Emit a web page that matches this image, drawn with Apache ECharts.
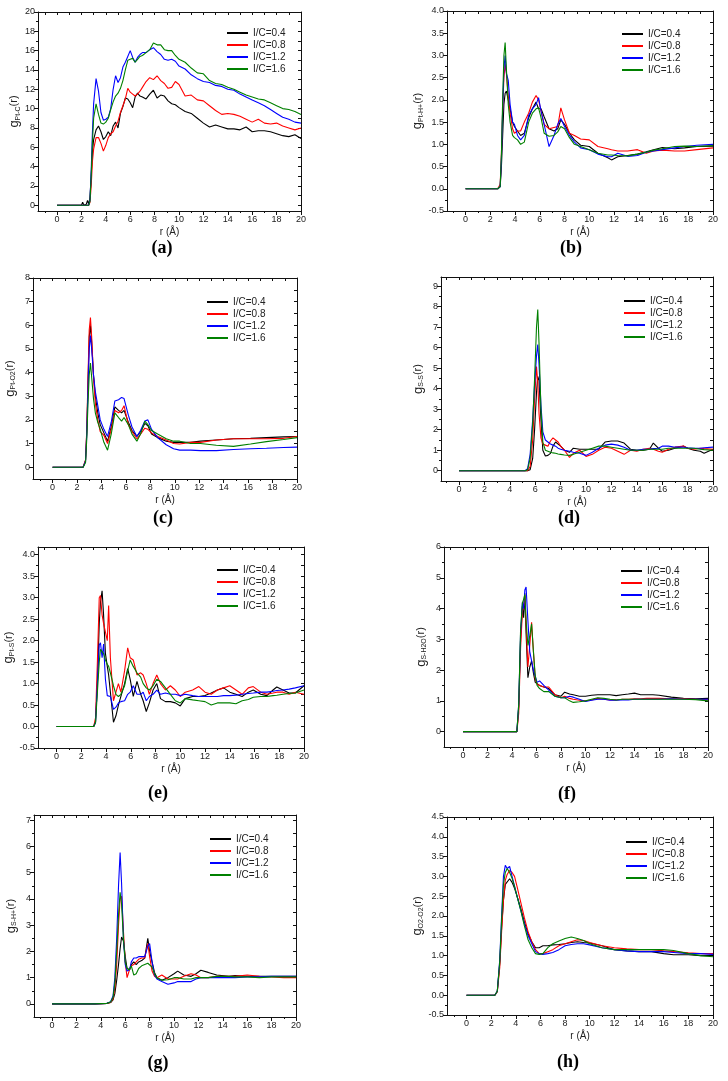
<!DOCTYPE html>
<html><head><meta charset="utf-8">
<script src="https://cdn.jsdelivr.net/npm/echarts@6/dist/echarts.min.js"></script>
<style>html,body{margin:0;padding:0;background:#fff}#c{width:728px;height:1081px}</style>
</head><body><div id="c"></div>
<script>
// ---------- labels ----------
const SERIES_NAMES = ['I/C=0.4','I/C=0.8','I/C=1.2','I/C=1.6'];
const COLORS = ['#000000','#ff0000','#0000ff','#008000'];
const X_TICKS = [0,2,4,6,8,10,12,14,16,18,20];
const X_MINOR = [-1,1,3,5,7,9,11,13,15,17,19];
const Y_TICKS_A = [0,2,4,6,8,10,12,14,16,18,20];
const Y_MINOR_A = [1,3,5,7,9,11,13,15,17,19];
const Y_TICKS_B = [-0.5,0,0.5,1,1.5,2,2.5,3,3.5,4];
const Y_MINOR_B = [-0.25,0.25,0.75,1.25,1.75,2.25,2.75,3.25,3.75];
const Y_TICKS_C = [0,1,2,3,4,5,6,7,8];
const Y_MINOR_C = [0.5,1.5,2.5,3.5,4.5,5.5,6.5,7.5];
const Y_TICKS_D = [0,1,2,3,4,5,6,7,8,9];
const Y_MINOR_D = [0.5,1.5,2.5,3.5,4.5,5.5,6.5,7.5,8.5];
const Y_TICKS_E = [-0.5,0,0.5,1,1.5,2,2.5,3,3.5,4];
const Y_MINOR_E = [-0.25,0.25,0.75,1.25,1.75,2.25,2.75,3.25,3.75];
const Y_TICKS_F = [0,1,2,3,4,5,6];
const Y_MINOR_F = [0.5,1.5,2.5,3.5,4.5,5.5];
const Y_TICKS_G = [0,1,2,3,4,5,6,7];
const Y_MINOR_G = [0.5,1.5,2.5,3.5,4.5,5.5,6.5];
const Y_TICKS_H = [-0.5,0,0.5,1,1.5,2,2.5,3,3.5,4,4.5];
const Y_MINOR_H = [-0.25,0.25,0.75,1.25,1.75,2.25,2.75,3.25,3.75,4.25];

// ---------- (a) g Pt-C ----------
const R_A = [0,2.0,2.1,2.2,2.4,2.5,2.6,2.7,2.8,2.9, 3.0,3.2,3.4,3.6,3.8,4.0,4.2,4.4,4.6,4.8,5.0,5.2,5.4,5.6,5.8,6.0,6.2,6.4,6.6,6.8, 7.0,7.3,7.6,7.9,8.2,8.5,8.8,9.1,9.4,9.7, 10,10.5,11,11.5,12,12.5,13,13.5,14,14.5,15,15.5,16,16.5,17,17.5,18,18.5,19,19.5,20];
const A_04 = [0,0,0.3,0,0.1,0.5,0.1,0.8,3.0,5.5, 6.8,7.8,8.2,7.6,6.8,7.1,7.6,7.2,8.2,8.6,8.0,9.5,10.2,11.1,11.0,10.6,10.1,11.2,11.6,11.3, 11.2,11.0,11.5,11.9,11.1,11.4,11.3,10.8,10.5,10.4, 10.1,9.7,9.5,9.0,8.5,8.1,8.3,8.1,7.9,7.9,7.8,8.1,7.6,7.7,7.7,7.6,7.4,7.2,7.1,7.3,6.9];
const A_08 = [0,0,0,0,0,0,0,0.3,2.0,4.5, 5.8,7.0,7.0,6.4,5.6,6.2,7.0,7.4,7.6,8.2,8.7,9.6,10.3,11.0,12.1,11.7,11.5,11.3,11.5,11.8, 12.2,12.8,13.2,13.0,13.4,12.9,12.6,12.1,12.2,12.8, 12.5,11.3,11.4,10.9,10.8,10.3,9.8,9.4,9.5,9.4,9.2,8.9,8.6,8.9,8.5,8.4,8.5,8.2,8.0,7.8,8.0];
const A_12 = [0,0,0,0,0,0,0,0.5,3.5,7.5, 10.5,13.1,11.8,9.6,8.8,8.9,9.1,10.0,12.0,13.4,12.7,13.2,14.3,14.8,15.4,16.0,15.3,14.8,15.3,15.6, 15.8,15.8,16.1,16.3,15.9,15.6,15.1,15.0,15.1,14.9, 14.4,14.1,13.5,13.1,12.8,12.7,12.4,12.3,12.0,11.9,11.5,11.2,10.9,10.6,10.3,9.9,9.5,9.1,8.9,8.6,8.5];
const A_16 = [0,0,0,0,0,0,0,0.4,3.0,6.5, 9.0,10.5,9.4,8.5,8.4,8.6,9.0,9.9,10.7,11.3,11.6,12.1,12.9,14.0,15.0,15.1,15.2,14.8,15.1,15.4, 15.5,15.8,16.1,16.8,16.6,16.6,16.1,16.0,16.0,15.5, 15.1,14.8,14.2,13.7,13.6,12.9,12.6,12.5,12.2,12.0,11.7,11.4,11.2,11.0,10.9,10.6,10.3,10.0,9.9,9.7,9.4];

// ---------- (b) g Pt-H+ ----------
const R_B = [0,2.6,2.8,2.9,3.0,3.1,3.2,3.3,3.45,3.6, 3.8,3.95,4.2,4.45,4.75,5.1,5.4,5.7,5.9,6.1, 6.35,6.75,7.15,7.45,7.7,8.0,8.4,8.8,9.3,10, 10.7,11.5,11.8,12.3,13.1,13.9,14.6,15.2,15.9,16.9, 17.7,18.7,20];
const B_04 = [0,0,0.05,0.5,1.2,1.9,2.15,2.2,2.0,1.8, 1.5,1.4,1.3,1.2,1.25,1.6,1.8,1.95,1.8,1.8, 1.62,1.35,1.3,1.35,1.55,1.45,1.25,1.1,0.98,0.95, 0.8,0.7,0.65,0.72,0.75,0.78,0.83,0.88,0.93,0.9, 0.92,0.95,0.96];
const B_08 = [0,0,0.1,0.8,1.8,2.5,2.8,2.6,2.1,1.7, 1.35,1.25,1.3,1.3,1.5,1.7,1.95,2.1,2.0,1.75, 1.45,1.35,1.38,1.4,1.82,1.55,1.25,1.2,1.12,1.1, 0.95,0.9,0.88,0.85,0.85,0.88,0.8,0.85,0.87,0.85, 0.85,0.88,0.92];
const B_12 = [0,0,0.05,0.7,1.8,2.7,3.0,2.6,2.44,1.9, 1.5,1.45,1.2,1.1,1.2,1.65,1.8,1.9,2.05,1.75, 1.45,0.95,1.2,1.45,1.58,1.4,1.2,1.05,0.92,0.88, 0.78,0.72,0.72,0.8,0.73,0.75,0.82,0.85,0.88,0.92, 0.95,0.98,1.0];
const B_16 = [0,0,0.05,0.8,2.0,3.0,3.29,2.7,1.9,1.5, 1.2,1.15,1.1,1.0,1.05,1.5,1.7,1.8,1.82,1.6, 1.25,1.18,1.2,1.28,1.4,1.35,1.15,1.0,0.95,0.88, 0.8,0.76,0.76,0.75,0.74,0.78,0.82,0.87,0.9,0.95, 0.96,0.95,0.97];

// ---------- (c) g Pt-O2 ----------
const R_C = [0,2.5,2.7,2.8,2.9,3.0,3.1,3.2,3.35,3.5, 3.7,3.9,4.2,4.5,4.8,5.1,5.4,5.65,5.85,6.2, 6.5,6.9,7.2,7.55,7.8,8.1,8.6,9.3,9.9,10.4, 11.3,12.1,13.4,14.8,16.2,17.5,18.9,20];
const C_04 = [0,0,0.3,1.5,3.5,5.5,6.0,5.3,3.9,3.0, 2.3,1.8,1.45,1.1,1.7,2.55,2.4,2.3,2.4,1.9, 1.55,1.3,1.5,1.85,1.75,1.4,1.25,1.1,1.05,1.05, 1.05,1.1,1.15,1.2,1.22,1.25,1.28,1.3];
const C_08 = [0,0,0.3,1.6,3.8,5.8,6.33,5.5,3.8,2.7, 2.0,1.5,1.35,1.0,1.6,2.4,2.3,2.4,2.6,1.8, 1.5,1.2,1.4,1.65,1.6,1.45,1.3,1.15,1.0,0.98, 1.05,1.05,1.15,1.2,1.2,1.2,1.22,1.3];
const C_12 = [0,0,0.25,1.4,3.3,5.0,5.57,5.0,3.9,3.2, 2.6,2.0,1.6,1.3,1.9,2.8,2.85,2.95,2.9,2.2, 1.7,1.3,1.55,1.95,2.0,1.6,1.25,0.95,0.78,0.72, 0.72,0.7,0.7,0.75,0.78,0.8,0.83,0.85];
const C_16 = [0,0,0.2,1.2,2.7,3.9,4.4,3.8,2.9,2.3, 1.9,1.6,1.05,0.72,1.4,2.3,2.1,1.95,2.1,1.8, 1.4,1.1,1.4,1.95,1.8,1.55,1.4,1.2,1.1,1.1, 1.0,1.0,0.93,0.88,0.98,1.08,1.17,1.25];

// ---------- (d) g S-S ----------
const R_D = [0,5.2,5.4,5.6,5.8,5.95,6.1,6.2,6.3,6.45, 6.6,6.8,7.0,7.2,7.4,7.6,7.8,8.0,8.3,8.7, 9.0,9.5,10,10.5,11,11.5,12,12.5,13,13.5, 14,14.5,15,15.3,15.7,16,16.5,17,17.7,18, 18.5,19,19.3,20];
const D_04 = [0,0,0,0.05,0.6,2.0,3.8,4.6,4.4,2.5, 1.0,0.72,0.75,0.85,1.2,1.4,1.3,1.2,1.0,0.9, 1.1,1.05,1.05,1.05,1.05,1.4,1.45,1.45,1.35,1.05, 1.0,1.0,1.05,1.35,1.1,0.95,1.0,1.1,1.2,1.1, 1.0,0.95,0.85,1.05];
const D_08 = [0,0,0,0.2,1.5,3.5,5.08,4.3,2.8,1.6, 1.3,1.25,1.2,1.45,1.6,1.5,1.4,1.2,1.0,0.65, 0.85,1.0,0.7,0.8,1.0,1.15,1.1,0.95,0.8,1.0, 0.95,1.05,1.1,1.05,0.95,0.9,1.05,1.15,1.2,1.1, 1.05,1.1,1.08,1.05];
const D_12 = [0,0,0.1,0.8,2.5,4.2,5.6,6.16,5.2,3.2, 1.9,1.5,1.4,1.3,1.25,1.2,1.1,1.05,1.0,0.95, 0.9,0.85,0.75,0.9,1.1,1.25,1.3,1.25,1.15,1.0, 1.0,1.05,1.05,1.08,1.1,1.2,1.2,1.15,1.15,1.12, 1.1,1.1,1.12,1.15];
const D_16 = [0,0,0.05,0.6,2.3,4.5,7.0,7.86,6.2,3.0, 1.4,1.0,0.95,0.9,0.87,0.85,0.82,0.8,0.77,0.75, 0.8,0.9,1.0,1.1,1.2,1.2,1.15,1.1,1.05,1.0, 1.0,1.0,1.05,1.05,1.05,1.05,1.1,1.1,1.1,1.1, 1.1,1.05,1.03,1.0];

// ---------- (e) g Pt-S ----------
const R_E = [0,3.0,3.15,3.3,3.45,3.55,3.68,3.8,3.95,4.1, 4.21,4.35,4.6,4.8,5.0,5.2,5.5,5.75,5.95,6.2, 6.5,6.8,7.0,7.25,7.5,7.8,8.1,8.4,8.8,9.2, 9.6,10.0,10.4,11,11.5,12,12.5,13,13.5,14, 14.5,15,15.5,15.9,16.5,17,17.5,17.8,18.3,18.8, 19.3,20];
const E_04 = [0,0,0.1,1.0,2.4,2.9,3.16,2.6,1.7,1.4, 1.2,0.8,0.1,0.25,0.5,0.7,1.0,1.35,1.1,0.7, 1.05,0.75,0.6,0.35,0.55,0.85,1.0,0.65,0.58,0.58, 0.55,0.48,0.65,0.7,0.7,0.72,0.78,0.85,0.9,0.8, 0.75,0.7,0.8,0.85,0.75,0.72,0.85,0.92,0.85,0.78, 0.78,0.95];
const E_08 = [0,0,0.2,1.5,3.0,3.05,2.6,2.4,2.2,2.0, 2.82,1.6,0.6,0.8,1.0,0.8,1.3,1.83,1.6,1.55, 1.2,1.25,1.2,1.0,0.75,1.0,1.2,1.0,0.85,0.95, 0.85,0.7,0.8,0.85,0.93,0.8,0.75,0.85,0.9,0.95, 0.85,0.75,0.9,0.93,0.8,0.75,0.78,0.8,0.8,0.75, 0.8,0.75];
const E_12 = [0,0,0.1,1.0,1.9,1.95,1.6,1.92,1.1,0.72, 0.75,0.7,0.4,0.45,0.55,0.58,0.6,0.75,0.8,0.95, 0.75,0.75,0.8,0.6,0.7,0.75,0.85,0.75,0.78,0.75, 0.75,0.72,0.75,0.72,0.7,0.7,0.7,0.7,0.72,0.72, 0.73,0.75,0.77,0.78,0.8,0.8,0.82,0.84,0.85,0.87, 0.9,0.95];
const E_16 = [0,0,0.1,0.8,1.5,1.8,1.84,1.7,1.55,1.45, 1.4,1.25,0.95,0.75,0.7,0.75,0.95,1.3,1.55,1.4, 1.25,1.15,1.0,0.9,0.85,0.95,1.1,1.05,0.9,0.75, 0.6,0.55,0.65,0.62,0.6,0.58,0.5,0.55,0.55,0.55, 0.53,0.6,0.63,0.68,0.7,0.7,0.72,0.73,0.75,0.77, 0.78,0.85];

// ---------- (f) g S-H2O ----------
const R_F = [0,4.4,4.55,4.7,4.85,4.95,5.05,5.15,5.3,5.45, 5.6,5.75,5.9,6.05,6.25,6.6,7.0,7.5,8.0,8.3, 8.7,9.0,9.5,10,10.5,11,11.5,12,12.5,13, 13.5,14,14.5,15,15.5,16,17,18,19,20];
const F_04 = [0,0,0.8,3.0,4.07,3.7,4.5,3.2,1.75,2.1, 2.3,1.9,1.6,1.55,1.5,1.45,1.4,1.2,1.15,1.28, 1.22,1.2,1.15,1.15,1.18,1.2,1.2,1.2,1.17,1.2, 1.22,1.25,1.2,1.2,1.2,1.18,1.12,1.08,1.07,1.08];
const F_08 = [0,0,0.6,2.7,3.9,4.1,4.4,3.5,2.1,2.8, 3.55,2.6,1.7,1.55,1.5,1.45,1.45,1.2,1.1,1.15, 1.08,1.05,1.02,1.0,1.03,1.08,1.05,1.03,1.03,1.05, 1.05,1.07,1.07,1.08,1.08,1.08,1.07,1.07,1.05,1.03];
const F_12 = [0,0,0.9,3.2,4.2,4.0,4.6,4.7,3.6,2.6, 2.3,2.0,1.8,1.6,1.65,1.5,1.35,1.15,1.1,1.1, 1.15,1.12,1.05,0.98,1.02,1.05,1.05,1.02,1.02,1.03, 1.03,1.05,1.05,1.05,1.05,1.05,1.07,1.05,1.05,1.05];
const F_16 = [0,0,0.9,3.3,4.18,4.3,4.45,3.6,2.8,3.1, 3.5,2.6,1.8,1.5,1.4,1.3,1.3,1.15,1.1,1.1, 1.0,0.95,0.97,1.0,1.05,1.1,1.08,1.05,1.03,1.05, 1.05,1.05,1.05,1.05,1.05,1.05,1.05,1.05,1.04,1.0];

// ---------- (g) g S-H+ ----------
const R_G = [0,3.5,4.5,4.8,5.0,5.15,5.3,5.45,5.58,5.7, 5.85,6.0,6.15,6.35,6.5,6.7,6.9,7.1,7.35,7.6, 7.85,8.0,8.2,8.4,8.6,9.0,9.5,10.0,10.3,10.8, 11.4,11.8,12.2,12.8,13.5,14.5,15,16,17,18, 19,20];
const G_04 = [0,0,0.02,0.05,0.15,0.4,0.9,1.5,2.1,2.55, 2.4,1.8,1.35,1.3,1.5,1.6,1.5,1.6,1.65,1.75, 2.5,2.0,1.6,1.2,1.0,0.9,1.0,1.15,1.25,1.1, 1.05,1.15,1.28,1.2,1.1,1.05,1.08,1.05,1.05,1.05, 1.05,1.05];
const G_08 = [0,0,0.02,0.05,0.2,0.6,1.5,3.0,4.0,4.1, 2.8,1.6,1.0,1.3,1.45,1.5,1.6,1.7,1.75,1.75, 2.3,1.8,1.25,1.05,1.0,1.1,0.95,0.95,0.95,1.05, 1.15,1.1,1.0,1.0,1.05,1.05,1.05,1.1,1.05,1.03, 1.0,1.0];
const G_12 = [0,0,0.02,0.08,0.3,1.0,2.5,4.5,5.77,4.6, 2.5,1.5,1.25,1.3,1.6,1.75,1.75,1.8,1.8,1.8, 2.2,2.3,1.6,1.1,0.95,0.85,0.75,0.8,0.85,0.85, 0.85,0.95,1.0,1.0,1.0,1.0,1.0,1.03,1.03,1.05, 1.05,1.05];
const G_16 = [0,0,0.02,0.07,0.25,0.8,2.0,3.4,4.25,3.8, 2.5,1.6,1.35,1.3,1.45,1.1,1.15,1.35,1.45,1.5, 1.55,1.5,1.4,1.15,1.0,0.9,0.92,1.0,1.0,0.95, 0.95,1.0,1.0,1.0,1.05,1.05,1.03,1.03,1.0,1.03, 1.03,1.03];

// ---------- (h) g O2-O2 ----------
const R_H = [0,2.3,2.5,2.7,2.85,3.0,3.15,3.3,3.5,3.7, 3.9,4.1,4.4,4.7,5.0,5.3,5.6,5.9,6.2,6.6, 7.0,7.5,8.0,8.5,9.0,9.5,10,11,12,13, 14,15,16,16.8,18,19,20];
const H_04 = [0,0,0.1,0.8,1.7,2.4,2.8,2.85,2.94,2.85, 2.7,2.5,2.2,1.85,1.55,1.35,1.2,1.2,1.25,1.25, 1.27,1.28,1.3,1.33,1.35,1.33,1.32,1.25,1.15,1.12, 1.1,1.1,1.05,1.02,1.02,1.0,1.0];
const H_08 = [0,0,0.08,0.7,1.6,2.4,2.9,3.05,3.15,3.1, 3.0,2.75,2.35,1.95,1.6,1.35,1.15,1.05,1.05,1.1, 1.15,1.25,1.3,1.35,1.4,1.38,1.33,1.25,1.2,1.17, 1.15,1.15,1.12,1.1,1.07,1.05,1.05];
const H_12 = [0,0,0.1,0.9,2.0,3.0,3.28,3.2,3.25,3.0, 2.75,2.5,2.15,1.8,1.5,1.3,1.1,1.05,1.03,1.05, 1.08,1.15,1.25,1.28,1.3,1.3,1.27,1.2,1.15,1.12, 1.1,1.1,1.1,1.08,1.05,1.05,1.03];
const H_16 = [0,0,0.1,0.85,1.9,2.8,3.1,3.2,3.1,2.95, 2.75,2.5,2.15,1.75,1.4,1.2,1.05,1.03,1.05,1.2, 1.3,1.37,1.43,1.47,1.43,1.38,1.3,1.2,1.15,1.15, 1.15,1.15,1.15,1.13,1.05,1.0,0.97];

// ---------- layout (positions/styles) ----------
const PANELS = [
  {key:'a', r:R_A, ys:[A_04,A_08,A_12,A_16], box:[38,12,301,211], xMin:-1.56, yMin:-0.6, yMax:20,  maj:Y_TICKS_A, mnr:Y_MINOR_A, dec:0, sub:'Pt-C',  leg:[227,27],  lab:[162,248]},
  {key:'b', r:R_B, ys:[B_04,B_08,B_12,B_16], box:[447,11,713,211], xMin:-1.5, yMin:-0.5, yMax:4.0,  maj:Y_TICKS_B, mnr:Y_MINOR_B, dec:1, sub:'Pt-H+', leg:[622,28],  lab:[571,248]},
  {key:'c', r:R_C, ys:[C_04,C_08,C_12,C_16], box:[33,278,297,479], xMin:-1.6, yMin:-0.5, yMax:8,    maj:Y_TICKS_C, mnr:Y_MINOR_C, dec:0, sub:'Pt-O2', leg:[207,296], lab:[163,518]},
  {key:'d', r:R_D, ys:[D_04,D_08,D_12,D_16], box:[441,277,713,481], xMin:-1.42, yMin:-0.5, yMax:9.45, maj:Y_TICKS_D, mnr:Y_MINOR_D, dec:0, sub:'S-S',  leg:[624,295], lab:[569,518]},
  {key:'e', r:R_E, ys:[E_04,E_08,E_12,E_16], box:[38,547,304,748], xMin:-1.5, yMin:-0.5, yMax:4.18, maj:Y_TICKS_E, mnr:Y_MINOR_E, dec:1, sub:'Pt-S',  leg:[217,564], lab:[158,793]},
  {key:'f', r:R_F, ys:[F_04,F_08,F_12,F_16], box:[444,547,708,747], xMin:-1.55, yMin:-0.5, yMax:6,   maj:Y_TICKS_F, mnr:Y_MINOR_F, dec:0, sub:'S-H2O', leg:[621,565], lab:[567,794]},
  {key:'g', r:R_G, ys:[G_04,G_08,G_12,G_16], box:[34,815,296,1017], xMin:-1.48, yMin:-0.5, yMax:7.2, maj:Y_TICKS_G, mnr:Y_MINOR_G, dec:0, sub:'S-H+',  leg:[210,833], lab:[158,1063]},
  {key:'h', r:R_H, ys:[H_04,H_08,H_12,H_16], box:[447,817,713,1015], xMin:-1.58, yMin:-0.5, yMax:4.5, maj:Y_TICKS_H, mnr:Y_MINOR_H, dec:1, sub:'O2-O2', leg:[626,836], lab:[568,1062]}
];

const FONT = '"Liberation Sans", Arial, sans-serif';
const LINE = {color:'#111', width:1};
const option = {animation:false, backgroundColor:'#fff', textStyle:{fontFamily:FONT},
  grid:[], xAxis:[], yAxis:[], series:[], legend:[], graphic:[]};

PANELS.forEach((p, i) => {
  const [l, t, r, b] = p.box;
  option.grid.push({left:l, top:t, width:r - l, height:b - t, containLabel:false, show:false});
  const xi = option.xAxis.length, yi = option.yAxis.length;
  const xBase = {type:'value', gridIndex:i, min:p.xMin, max:20, splitLine:{show:false}, axisPointer:{show:false}};
  const yBase = {type:'value', gridIndex:i, min:p.yMin, max:p.yMax, splitLine:{show:false}, axisPointer:{show:false}};
  option.xAxis.push(Object.assign({}, xBase, {position:'bottom',
    axisLine:{show:true, onZero:false, lineStyle:LINE},
    axisTick:{show:true, length:4, customValues:X_TICKS, lineStyle:LINE},
    axisLabel:{show:true, customValues:X_TICKS, fontSize:9, color:'#222', margin:4, fontFamily:FONT},
    name:'r (Å)', nameLocation:'middle', nameGap:16, nameTextStyle:{fontSize:10, color:'#222', fontFamily:FONT}}));
  option.xAxis.push(Object.assign({}, xBase, {position:'bottom',
    axisLine:{show:false, onZero:false},
    axisTick:{show:true, length:2, customValues:X_MINOR, lineStyle:LINE},
    axisLabel:{show:false}}));
  option.xAxis.push(Object.assign({}, xBase, {position:'top',
    axisLine:{show:true, onZero:false, lineStyle:LINE},
    axisTick:{show:true, inside:true, length:3, customValues:X_TICKS.concat(X_MINOR), lineStyle:LINE},
    axisLabel:{show:false}}));
  option.yAxis.push(Object.assign({}, yBase, {position:'left',
    axisLine:{show:true, onZero:false, lineStyle:LINE},
    axisTick:{show:true, length:4, customValues:p.maj, lineStyle:LINE},
    axisLabel:{show:true, customValues:p.maj, fontSize:9, color:'#222', margin:3, fontFamily:FONT,
      formatter: v => Number(v).toFixed(p.dec)},
    name:'{g|g}{s|' + p.sub + '}{r|(r)}', nameLocation:'middle', nameRotate:90, nameGap:16,
    nameTextStyle:{color:'#222', fontFamily:FONT, rich:{
      g:{fontSize:13, color:'#222', fontFamily:FONT},
      s:{fontSize:7, color:'#222', fontFamily:FONT, padding:[7,0,0,0]},
      r:{fontSize:11, color:'#222', fontFamily:FONT}}}}));
  option.yAxis.push(Object.assign({}, yBase, {position:'left',
    axisLine:{show:false, onZero:false},
    axisTick:{show:true, length:2, customValues:p.mnr, lineStyle:LINE},
    axisLabel:{show:false}}));
  option.yAxis.push(Object.assign({}, yBase, {position:'right',
    axisLine:{show:true, onZero:false, lineStyle:LINE},
    axisTick:{show:true, inside:true, length:3, customValues:p.maj.concat(p.mnr), lineStyle:LINE},
    axisLabel:{show:false}}));

  p.ys.forEach((ys, k) => {
    if (ys.length !== p.r.length) throw new Error('length mismatch panel ' + p.key + ' series ' + k + ': ' + ys.length + ' vs ' + p.r.length);
    option.series.push({type:'line', name:SERIES_NAMES[k], xAxisIndex:xi, yAxisIndex:yi,
      data:p.r.map((x, j) => [x, ys[j]]), showSymbol:false, symbol:'none', silent:true, clip:true,
      lineStyle:{width:1.1, color:COLORS[k]}, itemStyle:{color:COLORS[k]}});
  });

  option.legend.push({left:p.leg[0], top:p.leg[1], orient:'vertical', icon:'rect', itemWidth:21, itemHeight:2,
    itemGap:0, padding:0, selectedMode:false, data:SERIES_NAMES,
    textStyle:{fontSize:10, color:'#222', lineHeight:12, fontFamily:FONT}});

  option.graphic.push({type:'text', x:p.lab[0], y:p.lab[1],
    style:{text:'(' + p.key + ')', align:'center', verticalAlign:'middle',
      font:'bold 18px "Liberation Serif", "Times New Roman", serif', fill:'#000'}});
});

const chart = echarts.init(document.getElementById('c'), null, {renderer:'canvas'});
chart.setOption(option);
</script>
</body></html>
